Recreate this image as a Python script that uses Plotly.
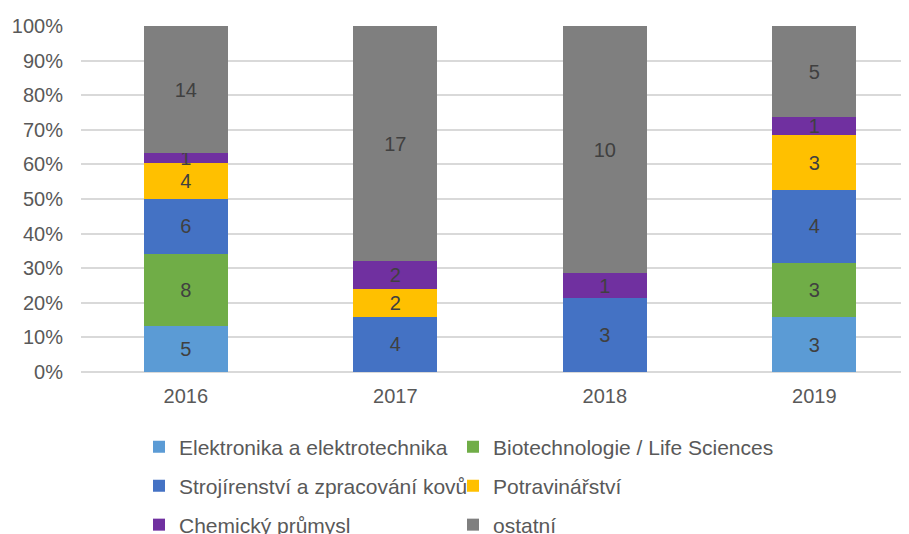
import plotly.graph_objects as go

years = ["2016", "2017", "2018", "2019"]
elektronika = [5, 0, 0, 3]
biotech = [8, 0, 0, 3]
strojirenstvi = [6, 4, 3, 4]
potravinarstvi = [4, 2, 0, 3]
chemicky = [1, 2, 1, 1]
ostatni = [14, 17, 10, 5]

series = [
    ("Elektronika a elektrotechnika", elektronika, "#5B9BD5"),
    ("Biotechnologie / Life Sciences", biotech, "#70AD47"),
    ("Strojírenství a zpracování kovů", strojirenstvi, "#4472C4"),
    ("Potravinářství", potravinarstvi, "#FFC000"),
    ("Chemický průmysl", chemicky, "#7030A0"),
    ("ostatní", ostatni, "#7F7F7F"),
]

FONT = "Liberation Sans, Arial, sans-serif"

fig = go.Figure()
for i, (name, vals, color) in enumerate(series):
    fig.add_trace(go.Bar(
        x=years, y=vals, name=name,
        legend="legend" if i == 0 else f"legend{i + 1}",
        marker=dict(color=color, line=dict(width=0)),
        text=[str(v) if v else "" for v in vals],
        textposition="inside", insidetextanchor="middle",
        constraintext="none", textangle=0,
        textfont=dict(family=FONT, size=20, color="#404040"),
        hoverinfo="skip",
    ))

# page body has an 8px margin; work in screen pixels and convert
OFF = 8
W, H = 909 - OFF, 534 - OFF
L, T = 81 - OFF, 26 - OFF
R = 0
B = H - (372 - OFF)
pw, ph = W - L - R, H - T - B

def px_x(p):
    return (p - OFF - L) / pw

def px_y(p):
    return (H - B - (p - OFF)) / ph

legend_common = dict(
    orientation="h", xanchor="left", yanchor="middle",
    font=dict(family=FONT, size=21, color="#595959"),
    bgcolor="rgba(0,0,0,0)", borderwidth=0,
)

col_x = [139, 453]
row_y = [447, 486, 525]
legends = {}
for i in range(6):
    key = "legend" if i == 0 else f"legend{i + 1}"
    legends[key] = dict(x=px_x(col_x[i % 2]), y=px_y(row_y[i // 2]), **legend_common)

fig.update_layout(
    width=W, height=H,
    margin=dict(l=L, r=R, t=T, b=B, pad=0, autoexpand=False),
    barmode="stack", barnorm="percent", bargap=0.6,
    plot_bgcolor="white", paper_bgcolor="white",
    font=dict(family=FONT, size=20, color="#595959"),
    xaxis=dict(range=[-0.5, 3.452], showgrid=False, showline=False,
               ticks="", ticklabelstandoff=10,
               tickfont=dict(size=20, color="#595959"),
               fixedrange=True),
    yaxis=dict(range=[0, 100], dtick=10, ticksuffix="%",
               showgrid=True, gridcolor="#D9D9D9", gridwidth=1.5,
               zeroline=True, zerolinecolor="#D9D9D9", zerolinewidth=1.5,
               showline=False, ticks="", ticklabelstandoff=17,
               tickfont=dict(size=20, color="#595959"), fixedrange=True),
    showlegend=True,
    **legends,
)

fig.write_html("out.html")
